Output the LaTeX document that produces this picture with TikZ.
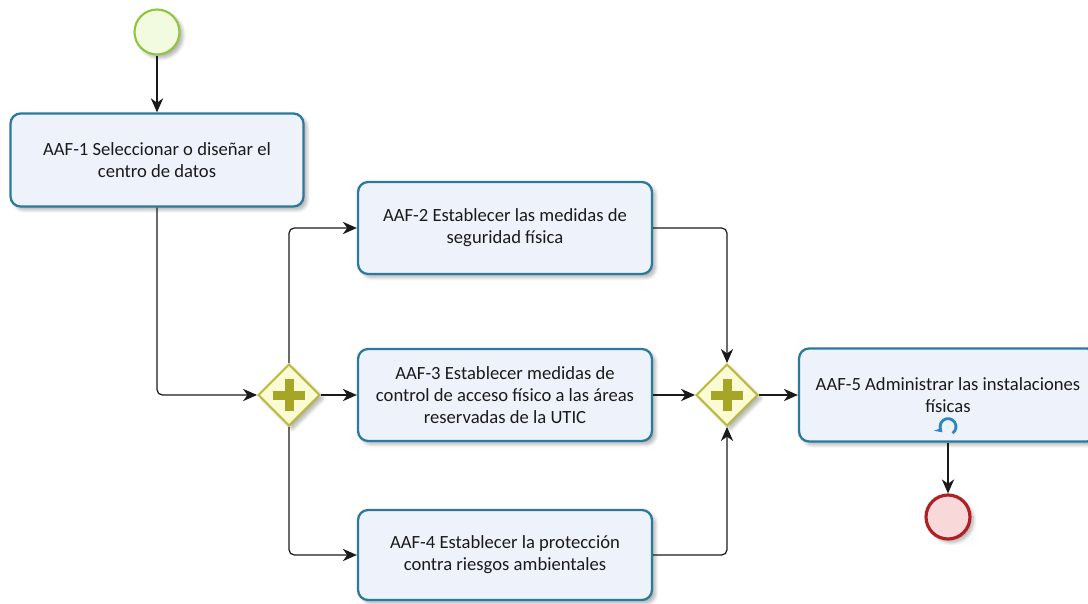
\documentclass[tikz,border=0pt]{standalone}
\usepackage{fontspec}
\setmainfont{Carlito}
\usetikzlibrary{shapes.geometric,arrows.meta,shadows.blur,calc}
\definecolor{taskline}{HTML}{2B7A9E}
\definecolor{taskfill}{HTML}{EEF3FB}
\definecolor{gwline}{HTML}{B9B935}
\definecolor{gwfill}{HTML}{FAFAD4}
\definecolor{gwplus}{HTML}{A6A626}
\definecolor{startline}{HTML}{8DC63F}
\definecolor{startfill}{HTML}{F2FADF}
\definecolor{endline}{HTML}{B01F24}
\definecolor{endfill}{HTML}{F8D8D8}
\definecolor{loopblue}{HTML}{2E86C1}
\definecolor{ink}{HTML}{1A1A1A}
\begin{document}
\begin{tikzpicture}[x=0.02cm,y=-0.02cm,
  softshadow/.style={blur shadow={shadow xshift=0.07cm,shadow yshift=-0.07cm,shadow blur steps=6,shadow opacity=30}},
  task/.style={rectangle,rounded corners=0.2cm,draw=taskline,line width=1.3pt,fill=taskfill,
    minimum width=5.88cm,minimum height=1.84cm,align=center,text=ink,
    font=\fontsize{10.6}{12.4}\selectfont,softshadow},
  gateway/.style={diamond,draw=gwline,line width=1.1pt,fill=gwfill,inner sep=0pt,
    minimum width=1.24cm,minimum height=1.24cm,softshadow},
  startev/.style={circle,draw=startline,line width=1.2pt,fill=startfill,inner sep=0pt,
    minimum size=0.9cm,softshadow},
  endev/.style={circle,draw=endline,line width=1.8pt,fill=endfill,inner sep=0pt,
    minimum size=0.88cm,softshadow},
  flow/.style={draw=ink,line width=0.7pt,rounded corners=3pt,-{Stealth[length=8pt,width=7pt,inset=2.5pt]}}
]
\useasboundingbox (0,0) rectangle (1088,604);
\clip (0,0) rectangle (1088,604);

% events
\node[startev] (start) at (157,32) {};
\node[endev] (finish) at (948,517) {};

% tasks
\node[task,minimum width=5.86cm,minimum height=1.86cm] (t1) at (157,160)
  {AAF-1 Seleccionar o diseñar el\\centro de datos};
\node[task] (t2) at (505,228) {AAF-2 Establecer las medidas de\\seguridad física};
\node[task] (t3) at (505,395) {AAF-3 Establecer medidas de\\control de acceso físico a las áreas\\reservadas de la UTIC};
\node[task,minimum height=1.8cm] (t4) at (505,555) {AAF-4 Establecer la protección\\contra riesgos ambientales};
\node[task,minimum width=5.96cm,minimum height=1.86cm] (t5) at (948,395)
  {AAF-5 Administrar las instalaciones\\físicas};

% gateways with plus markers
\node[gateway] (g1) at (289,395) {};
\node[gateway] (g2) at (727,395) {};
\foreach \g in {g1,g2}{
  \fill[gwplus] ($(\g)+(-16,-4.5)$) rectangle ($(\g)+(16,4.5)$);
  \fill[gwplus] ($(\g)+(-4.5,-16)$) rectangle ($(\g)+(4.5,16)$);
}

% loop marker of AAF-5
\begin{scope}[shift={($(t5.south)+(0,-16)$)},x=1cm,y=1cm]
  \draw[loopblue,line width=1.6pt,-{Stealth[length=4pt,width=5.5pt]}]
    (-55:0.16) arc[start angle=-55,end angle=225,radius=0.16];
\end{scope}

% sequence flows
\draw[flow] (start) -- (t1);
\draw[flow] (t1.south) |- (g1.west);
\draw[flow] (g1.north) |- (t2.west);
\draw[flow] (g1.east) -- (t3.west);
\draw[flow] (g1.south) |- (t4.west);
\draw[flow] (t2.east) -| (g2.north);
\draw[flow] (t3.east) -- (g2.west);
\draw[flow] (t4.east) -| (g2.south);
\draw[flow] (g2.east) -- (t5.west);
\draw[flow] (t5.south) -- (finish);
\end{tikzpicture}
\end{document}
